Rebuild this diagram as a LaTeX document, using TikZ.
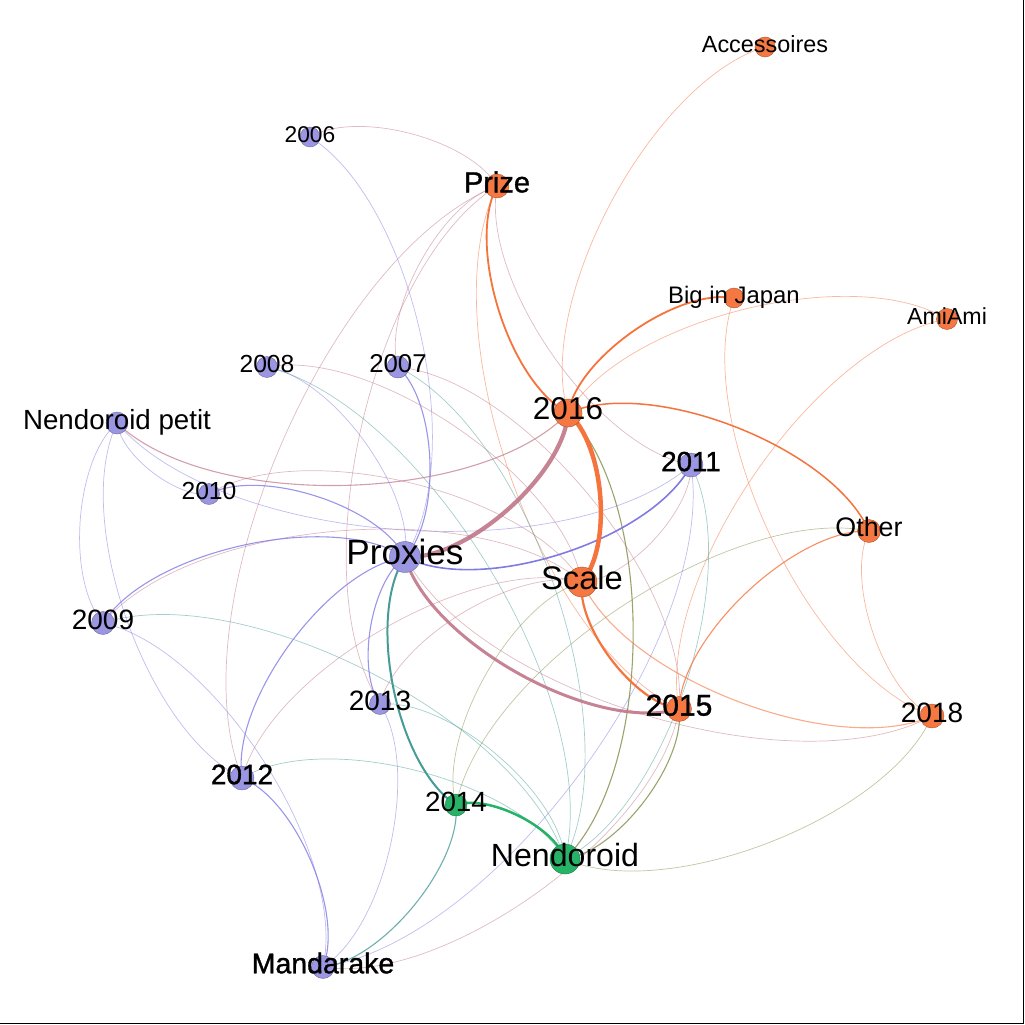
\documentclass[tikz,border=0pt]{standalone}
\usepackage{fontspec}
\setmainfont{Liberation Sans}
\newfontfamily\heavyfont[FakeBold=1.2]{Liberation Sans}
\definecolor{cpur}{RGB}{155,150,226}
\definecolor{cora}{RGB}{245,120,66}
\definecolor{cgre}{RGB}{38,178,103}
\definecolor{epp}{RGB}{128,122,226}
\definecolor{epo}{RGB}{192,118,136}
\definecolor{epg}{RGB}{72,156,152}
\definecolor{eoo}{RGB}{245,115,60}
\definecolor{eog}{RGB}{128,140,70}
\definecolor{egg}{RGB}{38,178,103}
\newcommand\glab[4]{\node[anchor=base,font=\fontsize{#3}{#3}\selectfont,inner sep=0pt] (#4) at ([yshift={-0.22*#3pt}]#1) {#2};}
\newcommand\glabh[4]{\node[anchor=base,font={\heavyfont\fontsize{#3}{#3}\selectfont},inner sep=0pt] (#4) at ([yshift={-0.22*#3pt}]#1) {#2};}
\begin{document}
\begin{tikzpicture}[x=1pt,y=1pt,
  ge/.style={bend left=45,looseness=0.72},
  faint/.style={line width=0.7pt,draw opacity=0.5},
  mid/.style={line width=1.1pt,draw opacity=0.8},
  vert/.style={circle,inner sep=0pt,line width=0.4pt},
  pur/.style={vert,fill=cpur,draw=cpur!70!black},
  ora/.style={vert,fill=cora,draw=cora!70!black},
  gre/.style={vert,fill=cgre,draw=cgre!70!black}]
\useasboundingbox (0,0) rectangle (1025,-1025);
\draw[line width=1.2pt] (1023.8,0) -- (1023.8,-1023.8) -- (0,-1023.8);
% positions
\coordinate (Ac) at (765,-47);
\coordinate (y06) at (310,-137);
\coordinate (Pz) at (497,-186);
\coordinate (BJ) at (734,-298);
\coordinate (AA) at (947,-319);
\coordinate (y08) at (267,-367);
\coordinate (y07) at (398,-367);
\coordinate (NP) at (117,-423);
\coordinate (y16) at (568,-413);
\coordinate (y11) at (691,-465);
\coordinate (y10) at (209,-494);
\coordinate (Ot) at (869,-531);
\coordinate (Px) at (405,-557);
\coordinate (Sc) at (582,-582);
\coordinate (y09) at (103,-623);
\coordinate (y13) at (380,-704);
\coordinate (y15) at (679,-709);
\coordinate (y18) at (932,-716);
\coordinate (y12) at (242,-778);
\coordinate (y14) at (456,-805);
\coordinate (Nd) at (565,-859);
\coordinate (Md) at (323,-967);
% faint edges
\draw[epo,faint] (y06) to[ge] (Pz);
\draw[epp,faint] (y06) to[ge] (Px);
\draw[epo,faint] (y07) to[ge] (Pz);
\draw[epo,faint] (y12) to[ge] (Pz);
\draw[epo,faint] (y13) to[ge] (Pz);
\draw[epo,faint] (y11) to[ge] (Pz);
\draw[eoo,faint] (y15) to[ge] (Pz);
\draw[eoo,faint] (y16) to[ge] (Ac);
\draw[eoo,faint] (y16) to[ge] (AA);
\draw[eoo,faint] (y15) to[ge] (AA);
\draw[eoo,faint] (y18) to[ge] (BJ);
\draw[eoo,faint] (y18) to[ge] (Ot);
\draw[eog,faint] (y14) to[ge] (Ot);
\draw[epo,faint] (y18) to[ge] (Px);
\draw[eog,faint] (y18) to[ge] (Nd);
\draw[epo,faint] (y11) to[ge] (Sc);
\draw[epg,faint] (y11) to[ge] (Nd);
\draw[epp,faint] (y11) to[ge] (Md);
\draw[epp,faint] (y11) to[ge] (NP);
\draw[epp,faint] (y09) to[ge] (NP);
\draw[epp,faint] (y10) to[ge] (NP);
\draw[epp,faint] (y12) to[ge] (NP);
\draw[epo,faint] (y09) to[ge] (Sc);
\draw[epg,faint] (y09) to[ge] (Nd);
\draw[epp,faint] (y09) to[ge] (Md);
\draw[epo,faint] (y10) to[ge] (Sc);
\draw[epp,faint] (y08) to[ge] (Px);
\draw[epg,faint] (y08) to[ge] (Nd);
\draw[epo,faint] (y08) to[ge] (Sc);
\draw[epg,faint] (y07) to[ge] (Nd);
\draw[epo,faint] (y07) to[ge] (y15);
\draw[epo,faint] (y12) to[ge] (Sc);
\draw[epg,faint] (y12) to[ge] (Nd);
\draw[epo,faint] (y13) to[ge] (Sc);
\draw[epg,faint] (y13) to[ge] (Nd);
\draw[epp,faint] (y13) to[ge] (Md);
\draw[eog,faint] (y14) to[ge] (Sc);
\draw[epo,faint] (y15) to[ge] (Md);
% medium edges
\draw[epo,mid,draw opacity=0.7] (y16) to[ge] (NP);
\draw[epp,mid] (y07) to[ge] (Px);
\draw[epp,mid] (y09) to[ge] (Px);
\draw[epp,mid] (y10) to[ge] (Px);
\draw[epp,mid] (y12) to[ge] (Px);
\draw[epp,mid] (y13) to[ge] (Px);
\draw[epp,mid] (y12) to[ge] (Md);
\draw[eoo,mid] (y15) to[ge] (Ot);
\draw[epg,mid] (y14) to[ge] (Md);
\draw[eoo,mid,draw opacity=0.6] (y18) to[ge] (Sc);
\draw[eog,mid] (y16) to[ge] (Nd);
\draw[eog,mid] (y15) to[ge] (Nd);
% thick edges
\draw[eoo,line width=1.5pt] (y16) to[ge] (Ot);
\draw[eoo,line width=1.8pt] (y16) to[ge] (BJ);
\draw[eoo,line width=1.8pt] (y16) to[ge] (Pz);
\draw[epp,line width=1.6pt] (y11) to[ge] (Px);
\draw[epg,line width=2pt] (y14) to[ge] (Px);
\draw[egg,line width=2.5pt] (y14) to[ge] (Nd);
\draw[eoo,line width=2.2pt] (y15) to[ge] (Sc);
\draw[epo,line width=3pt,draw opacity=0.9] (y15) to[ge] (Px);
\draw[epo,line width=4.2pt,draw opacity=0.9] (y16) to[ge] (Px);
\draw[eoo,line width=4.5pt] (y16) to[ge] (Sc);
% vertices
\node[ora,minimum size=20pt] (nAc) at (Ac) {};
\node[pur,minimum size=20pt] (n06) at (y06) {};
\node[ora,minimum size=24pt] (nPz) at (Pz) {};
\node[ora,minimum size=20pt] (nBJ) at (BJ) {};
\node[ora,minimum size=21pt] (nAA) at (AA) {};
\node[pur,minimum size=21pt] (n08) at (y08) {};
\node[pur,minimum size=22pt] (n07) at (y07) {};
\node[pur,minimum size=22pt] (nNP) at (NP) {};
\node[ora,minimum size=28pt] (n16) at (y16) {};
\node[pur,minimum size=24pt] (n11) at (y11) {};
\node[pur,minimum size=21pt] (n10) at (y10) {};
\node[ora,minimum size=23pt] (nOt) at (Ot) {};
\node[pur,minimum size=31pt] (nPx) at (Px) {};
\node[ora,minimum size=30pt] (nSc) at (Sc) {};
\node[pur,minimum size=23pt] (n09) at (y09) {};
\node[pur,minimum size=21pt] (n13) at (y13) {};
\node[ora,minimum size=25pt] (n15) at (y15) {};
\node[ora,minimum size=24pt] (n18) at (y18) {};
\node[pur,minimum size=24pt] (n12) at (y12) {};
\node[gre,minimum size=22pt] (n14) at (y14) {};
\node[gre,minimum size=30pt] (nNd) at (Nd) {};
\node[pur,minimum size=23pt] (nMd) at (Md) {};
% labels
\glab{Ac}{Accessoires}{23.4}{lAc}
\glab{y06}{2006}{22.8}{l06}
\glabh{Pz}{Prize}{29}{lPz}
\glab{BJ}{Big in Japan}{23.9}{lBJ}
\glab{AA}{AmiAmi}{23.2}{lAA}
\glab{y08}{2008}{24.7}{l08}
\glab{y07}{2007}{25.8}{l07}
\glab{NP}{Nendoroid petit}{27.7}{lNP}
\glab{y16}{2016}{31.5}{l16}
\glabh{y11}{2011}{27.7}{l11}
\glab{y10}{2010}{24.7}{l10}
\glab{Ot}{Other}{26.8}{lOt}
\glab{Px}{Proxies}{35.1}{lPx}
\glab{Sc}{Scale}{32.7}{lSc}
\glab{y09}{2009}{28}{l09}
\glab{y13}{2013}{28}{l13}
\glabh{y15}{2015}{30}{l15}
\glab{y18}{2018}{28}{l18}
\glabh{y12}{2012}{28}{l12}
\glab{y14}{2014}{27.8}{l14}
\glab{Nd}{Nendoroid}{32.1}{lNd}
\glabh{Md}{Mandarake}{28.5}{lMd}
\end{tikzpicture}
\end{document}
